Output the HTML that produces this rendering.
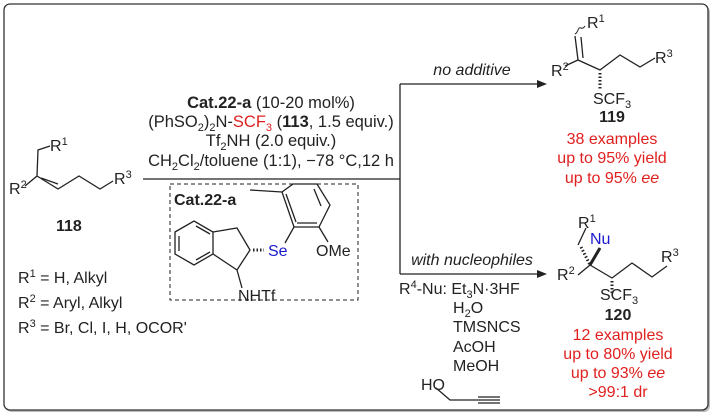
<!DOCTYPE html>
<html><head><style>
body{margin:0;background:#fff;}
svg{display:block;font-family:"Liberation Sans",sans-serif;}
.r{fill:#e0201f}
</style></head><body>
<svg width="718" height="418" viewBox="0 0 718 418" xmlns="http://www.w3.org/2000/svg">
<rect x="6" y="6" width="704" height="406" rx="6" fill="#bbb"/>
<rect x="4" y="4" width="704" height="406" rx="6" fill="#fff" stroke="#333" stroke-width="1.3"/>
<g stroke="#222" stroke-width="1.3" fill="none">
<path d="M50,146 L38,150 L37,176 L25,186 M37,176 L58,189 L79,176 L100,189 L113,181"/>
<path d="M41,178 L58,184"/>
<path d="M143,179 H400 M400,84 V274 M400,84 H540 M400,274 H540"/>
<rect x="170" y="184" width="188" height="116" stroke-dasharray="4,3" stroke-width="1"/>
<path d="M175,232 L194,221 L213,232 L213,254 L194,265 L175,254 Z M179,236 L179,251 M196,226 L210,234 M196,260 L210,252"/>
<path d="M213,232 L237,228 L250,250 L237,270 L213,254"/>
<path d="M253,250 L264,250" stroke-dasharray="1.5,2" stroke-width="3"/>
<path d="M237,270 L242,288"/>
<path d="M282,192 L294,227 L319,227 L330,205 L317,184 L293,184 Z M286,194 L296,222 M321,206 L314,189 M297,223 L317,223"/>
<path d="M282,192 L250,190 M294,227 L285,243 M319,227 L328,242"/>
<path d="M585,26 q-2,3 -4,2 q-2,-1 -3,2 q-1,3 -3,4" stroke-width="1"/>
<path d="M575,36 L578,60 L600,70 L620,55 L640,67 L655,58 M581,37 L583,58 M578,60 L565,66"/>
<path d="M600,73 L600,90" stroke-dasharray="1.5,2" stroke-width="3"/>
<path d="M586,228 L578,245 M590,265 L578,275 M590,265 L612,278 L632,263 L652,277 L667,266"/>
<path d="M581,247 L590,265" stroke-dasharray="1.5,2" stroke-width="3"/>
<path d="M590,265 L600,248" stroke-width="3"/>
<path d="M612,281 L612,294" stroke-dasharray="1.5,2" stroke-width="3"/>
<path d="M436,388 L450,400 L478,400 M478,397 H500 M478,400 H500 M478,403 H500"/>
</g>
<path d="M547,84 L537,80 L537,88 Z M547,274 L537,270 L537,278 Z" fill="#222"/>
<g font-size="16" fill="#222">
<text x="50" y="151">R<tspan font-size="11" dy="-6">1</tspan></text>
<text x="9" y="194">R<tspan font-size="11" dy="-6">2</tspan></text>
<text x="114" y="184">R<tspan font-size="11" dy="-6">3</tspan></text>
<text x="56" y="231" font-weight="bold">118</text>
<text x="18" y="283">R<tspan font-size="11" dy="-6">1</tspan><tspan dy="6"> = H, Alkyl</tspan></text>
<text x="18" y="308">R<tspan font-size="11" dy="-6">2</tspan><tspan dy="6"> = Aryl, Alkyl</tspan></text>
<text x="18" y="333">R<tspan font-size="11" dy="-6">3</tspan><tspan dy="6"> = Br, Cl, I, H, OCOR'</tspan></text>
<g text-anchor="middle" font-size="16.5">
<text x="271" y="108"><tspan font-weight="bold">Cat.22-a</tspan> (10-20 mol%)</text>
<text x="271" y="127">(PhSO<tspan font-size="11" dy="4">2</tspan><tspan dy="-4">)</tspan><tspan font-size="11" dy="4">2</tspan><tspan dy="-4">N-</tspan><tspan class="r">SCF<tspan font-size="11" dy="4">3</tspan></tspan><tspan dy="-4"> (</tspan><tspan font-weight="bold">113</tspan>, 1.5 equiv.)</text>
<text x="271" y="146">Tf<tspan font-size="11" dy="4">2</tspan><tspan dy="-4">NH (2.0 equiv.)</tspan></text>
<text x="271" y="166">CH<tspan font-size="11" dy="4">2</tspan><tspan dy="-4">Cl</tspan><tspan font-size="11" dy="4">2</tspan><tspan dy="-4">/toluene (1:1), −78 °C,12 h</tspan></text>
</g>
<text x="174" y="205" font-weight="bold">Cat.22-a</text>
<text x="268" y="256" fill="#1a1ad0">Se</text>
<text x="316" y="256">OMe</text>
<text x="238" y="301">NHTf</text>
<text x="472" y="75" text-anchor="middle" font-style="italic">no additive</text>
<text x="472" y="265" text-anchor="middle" font-style="italic">with nucleophiles</text>
<text x="399" y="294">R<tspan font-size="11" dy="-6">4</tspan><tspan dy="6">-Nu: Et</tspan><tspan font-size="11" dy="4">3</tspan><tspan dy="-4">N·3HF</tspan></text>
<text x="453" y="313">H<tspan font-size="11" dy="4">2</tspan><tspan dy="-4">O</tspan></text>
<text x="453" y="332">TMSNCS</text>
<text x="453" y="352">AcOH</text>
<text x="453" y="371">MeOH</text>
<text x="421" y="390">HO</text>
<text x="587" y="28">R<tspan font-size="11" dy="-6">1</tspan></text>
<text x="551" y="76">R<tspan font-size="11" dy="-6">2</tspan></text>
<text x="655" y="63">R<tspan font-size="11" dy="-6">3</tspan></text>
<text x="593" y="104">SCF<tspan font-size="11" dy="4">3</tspan></text>
<text x="612" y="122" text-anchor="middle" font-weight="bold">119</text>
<g class="r" text-anchor="middle">
<text x="612" y="144">38 examples</text>
<text x="612" y="163">up to 95% yield</text>
<text x="612" y="183">up to 95% <tspan font-style="italic">ee</tspan></text>
<text x="618" y="340">12 examples</text>
<text x="618" y="359">up to 80% yield</text>
<text x="618" y="378">up to 93% <tspan font-style="italic">ee</tspan></text>
<text x="618" y="397">&gt;99:1 dr</text>
</g>
<text x="578" y="228">R<tspan font-size="11" dy="-6">1</tspan></text>
<text x="590" y="244" fill="#1a1ad0">Nu</text>
<text x="557" y="280">R<tspan font-size="11" dy="-6">2</tspan></text>
<text x="661" y="262">R<tspan font-size="11" dy="-6">3</tspan></text>
<text x="600" y="300">SCF<tspan font-size="11" dy="4">3</tspan></text>
<text x="618" y="320" text-anchor="middle" font-weight="bold">120</text>
</g>
</svg>
</body></html>
